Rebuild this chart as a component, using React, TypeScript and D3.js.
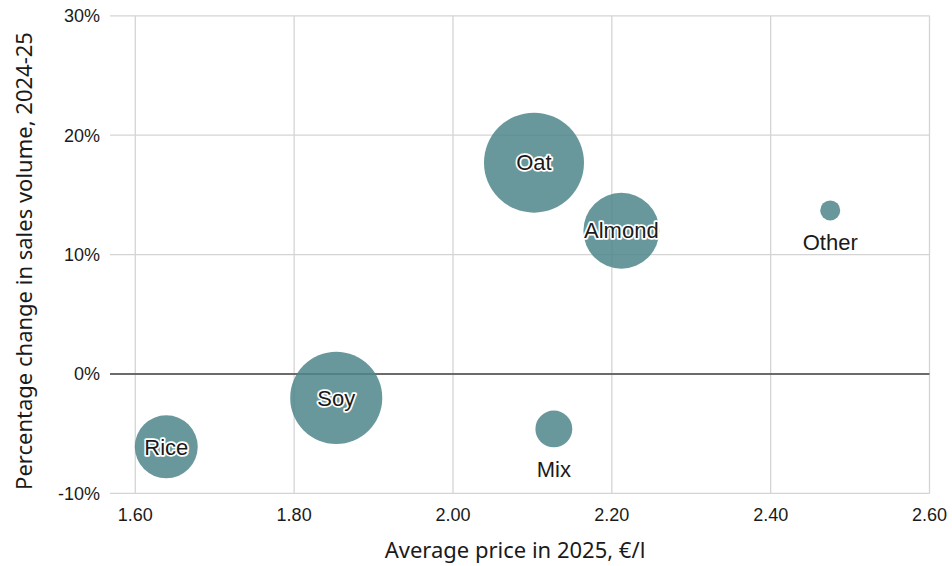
import * as d3 from "d3"
import { useEffect, useRef } from "react"
import React = require("react")

// milk alternatives: price vs change in volume, bubble = market share
const names = ["Rice", "Soy", "Oat", "Almond", "Mix", "Other"]
const prices = [1.639, 1.853, 2.102, 2.212, 2.127, 2.475]
const changes = [-6.1, -2.0, 17.7, 12.0, -4.6, 13.7]
const shares = [9.9, 21.2, 25.0, 14.4, 3.4, 1.0]
const labelPos = ["inside", "inside", "inside", "inside", "below", "below"]

const xTicks = [1.6, 1.8, 2.0, 2.2, 2.4, 2.6]
const yTicks = [-10, 0, 10, 20, 30]

const BubbleChart = () => {
    const svgRef = useRef(null)

    useEffect(() => {
        const width = 952
        const height = 566
        const gridLeft = 110

        const svg = d3.select(svgRef.current)
            .attr("width", width)
            .attr("height", height)
        svg.selectAll("*").remove()

        const x = d3.scaleLinear().domain([1.6, 2.6]).range([135.3, 929.5])
        const y = d3.scaleLinear().domain([-10, 30]).range([493.4, 15.8])
        const r = d3.scaleSqrt().domain([0, 25]).range([0, 50])

        // horizontal gridlines
        svg.append("g")
            .selectAll("line")
            .data(yTicks)
            .join("line")
            .attr("x1", gridLeft)
            .attr("x2", x(2.6))
            .attr("y1", (d) => y(d))
            .attr("y2", (d) => y(d))
            .attr("stroke", "#d4d4d4")
            .attr("stroke-width", 1.3)

        // vertical gridlines
        svg.append("g")
            .selectAll("line")
            .data(xTicks)
            .join("line")
            .attr("x1", (d) => x(d))
            .attr("x2", (d) => x(d))
            .attr("y1", y(30))
            .attr("y2", y(-10))
            .attr("stroke", "#d4d4d4")
            .attr("stroke-width", 1.3)

        // zero line on top of the grid
        svg.append("line")
            .attr("x1", gridLeft)
            .attr("x2", x(2.6))
            .attr("y1", y(0))
            .attr("y2", y(0))
            .attr("stroke", "#444")
            .attr("stroke-width", 1.3)

        // tick labels
        svg.append("g")
            .selectAll("text")
            .data(yTicks)
            .join("text")
            .attr("x", 100)
            .attr("y", (d) => y(d))
            .attr("dy", "0.35em")
            .attr("text-anchor", "end")
            .attr("font-family", "'Liberation Sans', Arial, sans-serif")
            .attr("font-size", 18)
            .attr("fill", "#1a1a1a")
            .text((d) => d + "%")

        svg.append("g")
            .selectAll("text")
            .data(xTicks)
            .join("text")
            .attr("x", (d) => x(d))
            .attr("y", 521)
            .attr("text-anchor", "middle")
            .attr("font-family", "'Liberation Sans', Arial, sans-serif")
            .attr("font-size", 18)
            .attr("fill", "#1a1a1a")
            .text((d) => d3.format(".2f")(d))

        // axis titles
        svg.append("text")
            .attr("x", 515)
            .attr("y", 558)
            .attr("text-anchor", "middle")
            .attr("font-family", "'Noto Sans', sans-serif")
            .attr("font-size", 22)
            .attr("fill", "#1a1a1a")
            .text("Average price in 2025, €/l")

        svg.append("text")
            .attr("transform", "translate(32, 261) rotate(-90)")
            .attr("text-anchor", "middle")
            .attr("font-family", "'Noto Sans', sans-serif")
            .attr("font-size", 22)
            .attr("fill", "#1a1a1a")
            .text("Percentage change in sales volume, 2024-25")

        const data = names.map((n, i) => ({
            name: n, price: prices[i], change: changes[i], share: shares[i], pos: labelPos[i]
        }))

        // bubbles
        svg.append("g")
            .selectAll("circle")
            .data(data)
            .join("circle")
            .attr("cx", (d) => x(d.price))
            .attr("cy", (d) => y(d.change))
            .attr("r", (d) => r(d.share))
            .attr("fill", "#4d8689")
            .attr("fill-opacity", 0.85)

        // labels
        svg.append("g")
            .selectAll("text")
            .data(data)
            .join("text")
            .attr("x", (d) => x(d.price))
            .attr("y", (d) => d.pos === "inside" ? y(d.change) : y(d.change) + r(d.share) + 30)
            .attr("dy", (d) => d.pos === "inside" ? "0.35em" : 0)
            .attr("text-anchor", "middle")
            .attr("font-family", "'Liberation Sans', Arial, sans-serif")
            .attr("font-size", 22)
            .attr("fill", "#1a1a1a")
            .attr("stroke", (d) => d.pos === "inside" ? "#fff" : "none")
            .attr("stroke-width", 3.5)
            .attr("stroke-linejoin", "round")
            .attr("paint-order", "stroke")
            .text((d) => d.name)
    }, [])

    return <svg ref={svgRef} style={{ display: "block", position: "absolute", left: 0, top: 0 }}></svg>
}

export default function App() {
    return <BubbleChart />
}
